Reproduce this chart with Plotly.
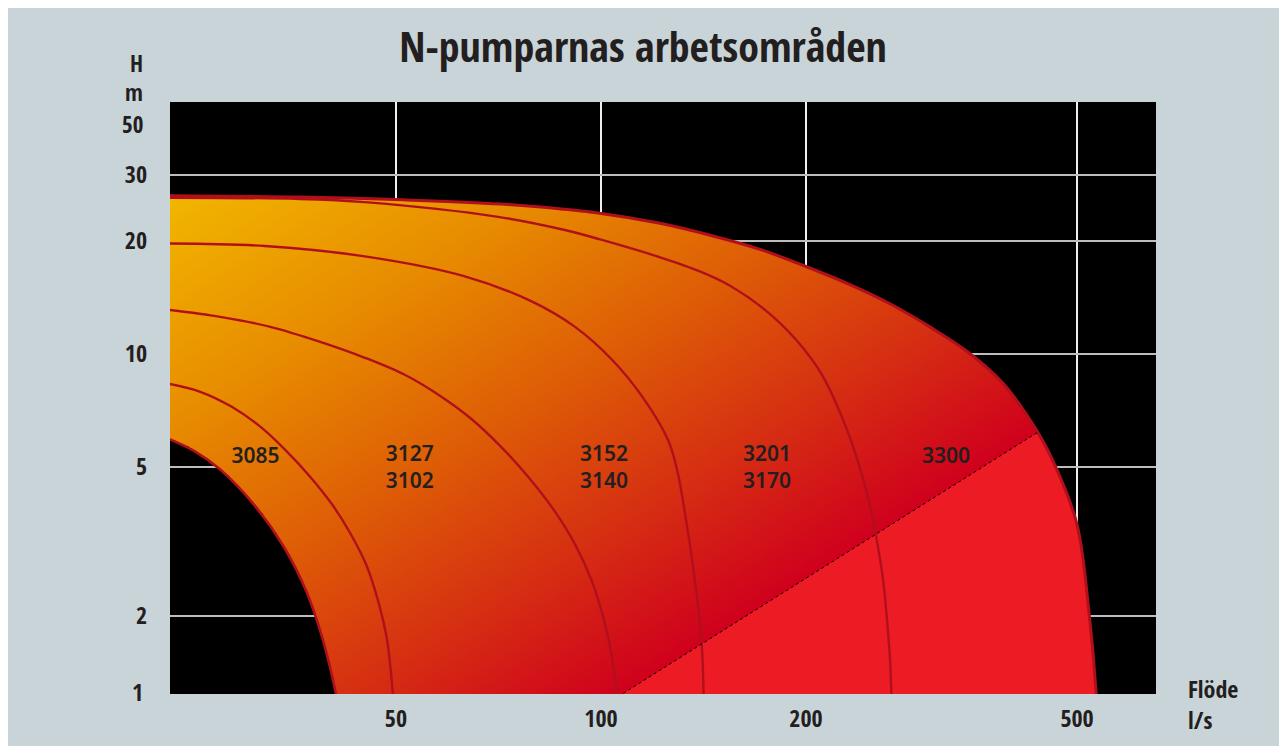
import numpy as np
import plotly.graph_objects as go

# ---------------- data ----------------
# flow Q (l/s) and head H (m) along each boundary curve
A_X = [23.2, 25.3, 27.6, 31.0, 34.2, 36.9, 39.0, 40.6, 41.7]
A_Y = [5.93, 5.50, 4.91, 3.94, 3.06, 2.33, 1.74, 1.295, 1.0]

B_X = [23.2, 25.8, 28.7, 31.6, 34.5, 37.4, 40.3, 42.8, 45.2, 47.0, 48.5, 49.5, 50.0]
B_Y = [8.32, 7.92, 7.22, 6.39, 5.51, 4.70, 3.96, 3.33, 2.74, 2.21, 1.73, 1.23, 1.0]

C_X = [23.2, 27.6, 32.7, 38.7, 45.0, 51.5, 58.0, 64.2, 71.1, 78.6, 85.6, 91.6, 97.0, 101.0, 103.8, 105.6, 106.3]
C_Y = [13.1, 12.55, 11.8, 10.76, 9.76, 8.79, 7.73, 6.75, 5.68, 4.64, 3.79, 3.10, 2.47, 1.95, 1.55, 1.23, 1.0]

D_X = [23.2, 32.1, 45.0, 63.1, 79.1, 91.6, 103.8, 115.3, 125.4, 129.3, 133.3, 138.1, 140.6, 141.5, 141.9]
D_Y = [19.7, 19.4, 18.2, 16.1, 13.8, 11.8, 9.64, 7.63, 5.90, 4.91, 3.61, 2.30, 1.67, 1.23, 1.0]

E_X = [23.2, 36.1, 45.0, 70.6, 88.5, 99.7, 122.1, 139.7, 154.7, 174.1, 193.4, 211.1, 226.7,
       238.5, 247.5, 254, 259.5, 263, 265.7, 267, 268.5]
E_Y = [26.1, 25.9, 25.4, 23.2, 21.4, 20.2, 18.1, 16.6, 15.2, 13.1, 10.9, 8.79, 6.67,
       5.15, 4.03, 3.19, 2.50, 1.95, 1.53, 1.23, 1.0]

F_X = [23.2, 36.1, 49.8, 71.1, 100, 122.1, 146.5, 171.2, 200, 232, 265.7, 304, 346, 389.3,
       437.5, 467, 500, 520.5, 533.5, 536]
F_Y = [26.4, 26.2, 25.8, 25.1, 23.7, 22.3, 20.6, 19.0, 17.1, 15.3, 13.6, 11.8, 10.1, 8.34,
       6.19, 4.91, 3.50, 2.05, 1.23, 1.0]

DIAG_X = [89.3, 437.5]
DIAG_Y = [1.0, 6.17]

LABEL_X = [31.1, 52.4, 101.0, 175.3, 321]
LABEL_Y = [5.28, 4.92, 4.92, 4.92, 5.28]
LABEL_TEXT = ["3085", "3127<br>3102", "3152<br>3140", "3201<br>3170", "3300"]

X_TICKS = [50, 100, 200, 500]
Y_TICKS = [2, 5, 10, 20, 30]
X_RANGE = [23.29, 653]
Y_RANGE = [1.236, 47.0]

GRAD_STOPS = [0.0, 0.3, 0.55, 0.8, 1.0]
GRAD_COLORS = ["#f2b600", "#e78b00", "#de5d06", "#d52b13", "#d0001d"]

# ---------------- styling / geometry ----------------
BG = "#c9d4d9"
CURVE = "#b0101c"
RED = "#ed1c24"
TXT = "#231f20"
NARROW = "Noto Sans Condensed, Open Sans Condensed, DejaVu Sans Condensed, sans-serif"
LABELFONT = "Noto Sans, Open Sans, sans-serif"
W, H = 1279, 738
ML, MR, MT, MB = 162, 131, 94, 52
PW, PH = W - ML - MR, H - MT - MB
KX = PW / (np.log10(X_RANGE[1]) - np.log10(X_RANGE[0]))
KY = PH / (np.log10(Y_RANGE[1]) - np.log10(Y_RANGE[0]))


# replica of plotly.js spline construction (used only to build the fill masks)
def _tangent(p0, p1, p2, s):
    d1 = p0 - p1
    d2 = p2 - p1
    d1a = np.hypot(*d1) ** 0.5
    d2a = np.hypot(*d2) ** 0.5
    num = (d2a * d2a * d1 - d1a * d1a * d2) * s
    den1 = 3 * d2a * (d1a + d2a)
    den2 = 3 * d1a * (d1a + d2a)
    return p1 + num / den1, p1 - num / den2


def spline_samples(xs, ys, s=1.0, n=20):
    P = np.column_stack([KX * np.log10(xs), -KY * np.log10(ys)])
    tg = [_tangent(P[i - 1], P[i], P[i + 1], s) for i in range(1, len(P) - 1)]
    t = np.linspace(0, 1, n + 1)[1:, None]
    out = [P[0]]
    out.extend((1 - t) ** 2 * P[0] + 2 * (1 - t) * t * tg[0][0] + t ** 2 * P[1])
    for i in range(2, len(P) - 1):
        a, b, c, d = P[i - 1], tg[i - 2][1], tg[i - 1][0], P[i]
        out.extend((1 - t) ** 3 * a + 3 * (1 - t) ** 2 * t * b + 3 * (1 - t) * t ** 2 * c + t ** 3 * d)
    out.extend((1 - t) ** 2 * P[-2] + 2 * (1 - t) * t * tg[-1][1] + t ** 2 * P[-1])
    out = np.array(out)
    return 10 ** (out[:, 0] / KX), 10 ** (-out[:, 1] / KY)


fx, fy = spline_samples(F_X, F_Y)
ax_, ay_ = spline_samples(A_X, A_Y)

# ---------------- gradient-filled working area ----------------
poly_u = np.log10(np.concatenate([fx, ax_[::-1]]))
poly_v = np.log10(np.concatenate([fy, ay_[::-1]]))

hx = np.logspace(np.log10(23.0), np.log10(660), 700)
hy = np.logspace(0, np.log10(50), 420)
U, V = np.meshgrid(np.log10(hx), np.log10(hy))

inside = np.zeros(U.shape, dtype=bool)
n = len(poly_u)
j = n - 1
for i in range(n):
    ui, vi, uj, vj = poly_u[i], poly_v[i], poly_u[j], poly_v[j]
    if vi != vj:
        inside ^= ((vi > V) != (vj > V)) & (U < (uj - ui) * (V - vi) / (vj - vi) + ui)
    j = i

k = (np.log10(DIAG_Y[1]) - np.log10(DIAG_Y[0])) / (np.log10(DIAG_X[1]) - np.log10(DIAG_X[0]))
g = U - V / k
g0 = np.log10(F_X[0]) - np.log10(F_Y[0]) / k
g1 = np.log10(DIAG_X[0]) - np.log10(DIAG_Y[0]) / k
s = np.clip((g - g0) / (g1 - g0), 0, 1)
z = np.where(inside, s, np.nan)

fig = go.Figure()
fig.add_trace(go.Heatmap(
    x=hx, y=hy, z=z, zmin=0, zmax=1,
    colorscale=[[p, c] for p, c in zip(GRAD_STOPS, GRAD_COLORS)],
    showscale=False, hoverinfo="skip",
))

# solid red part below the diagonal
sel = fy < DIAG_Y[1]
red_x = np.concatenate([DIAG_X, fx[sel], DIAG_X[:1]])
red_y = np.concatenate([DIAG_Y, fy[sel], DIAG_Y[:1]])
fig.add_trace(go.Scatter(x=red_x, y=red_y, mode="lines", fill="toself",
                         fillcolor=RED, line=dict(width=0), hoverinfo="skip"))

for cx, cy, w in [(A_X, A_Y, 2.6), (B_X, B_Y, 2.4), (C_X, C_Y, 2.4), (D_X, D_Y, 2.4),
                  (E_X, E_Y, 2.4), (F_X, F_Y, 3.0)]:
    fig.add_trace(go.Scatter(x=cx, y=cy, mode="lines",
                             line=dict(color=CURVE, width=w, shape="spline", smoothing=1.0,
                                       simplify=False),
                             hoverinfo="skip"))

fig.add_trace(go.Scatter(x=DIAG_X, y=DIAG_Y, mode="lines",
                         line=dict(color="#000000", width=1, dash="dot"), hoverinfo="skip"))

fig.add_trace(go.Scatter(x=LABEL_X, y=LABEL_Y, mode="text", text=LABEL_TEXT,
                         textfont=dict(family=LABELFONT, size=21, color=TXT, weight=600),
                         hoverinfo="skip"))

axis_font = dict(family=NARROW, size=24, color=TXT, weight="bold")

fig.update_layout(
    width=W, height=H,
    paper_bgcolor=BG, plot_bgcolor="#000000",
    margin=dict(l=ML, r=MR, t=MT, b=MB),
    showlegend=False,
    title=dict(text="N-pumparnas arbetsområden", x=(643 - 8) / W, xref="container",
               xanchor="center", y=1 - (47 - 8) / H, yref="container", yanchor="middle",
               font=dict(family=NARROW, size=42, color=TXT, weight="bold")),
    xaxis=dict(type="log", range=[np.log10(X_RANGE[0]), np.log10(X_RANGE[1])],
               tickvals=X_TICKS, ticktext=[str(v) for v in X_TICKS],
               showgrid=True, gridcolor="#efefef", gridwidth=2,
               zeroline=False, showline=False, ticks="", tickfont=axis_font,
               ticklabelstandoff=8),
    yaxis=dict(type="log", range=[np.log10(Y_RANGE[0]), np.log10(Y_RANGE[1])],
               tickvals=Y_TICKS, ticktext=[str(v) for v in Y_TICKS],
               showgrid=True, gridcolor="#bdbdbd", gridwidth=2,
               zeroline=False, showline=False, ticks="", tickfont=axis_font,
               ticklabelstandoff=22),
)

for txt, xp, yp, xa, sz in [("H", -0.0254, 1.0659, "right", 23), ("m", -0.0254, 1.0169, "right", 23),
                            ("50", -0.0254, 0.9628, "right", 23), ("1", -0.0254, 0.0034, "right", 24),
                            ("Flöde", 1.0304, 0.0101, "left", 24), ("l/s", 1.0304, -0.0439, "left", 24)]:
    fig.add_annotation(text=txt, x=xp, y=yp, xref="paper", yref="paper",
                       xanchor=xa, yanchor="middle", showarrow=False,
                       font=dict(family=NARROW, size=sz, color=TXT, weight="bold"))

fig.write_html("out.html")
